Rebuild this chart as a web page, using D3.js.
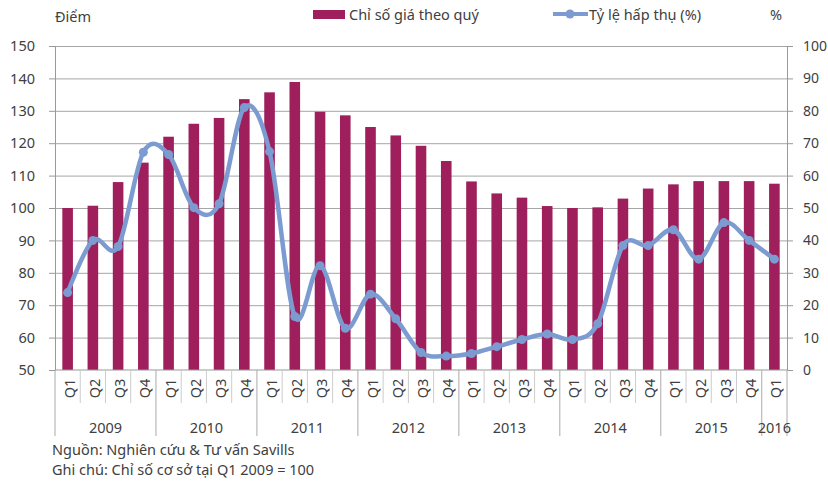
<!DOCTYPE html>
<html>
<head>
<meta charset="utf-8">
<script src="https://cdn.jsdelivr.net/npm/d3@7"></script>
<style>
  body { margin: 0; background: #fff; }
  svg text { font-family: "Noto Sans", "Open Sans", sans-serif; fill: #404040; }
</style>
</head>
<body>
<div id="content"></div>
<script>
const svgWidth = 828, svgHeight = 483;

// data
const years = ["2009", "2010", "2011", "2012", "2013", "2014", "2015", "2016"];
const quartersPerYear = [4, 4, 4, 4, 4, 4, 4, 1];
const quarterNames = ["Q1", "Q2", "Q3", "Q4"];
const priceIndex = [100, 100.7, 108, 114, 122, 126, 127.8, 133.6, 135.7, 138.9,
  129.7, 128.6, 125, 122.4, 119.2, 114.5, 108.2, 104.5, 103.2, 100.6,
  100, 100.2, 102.9, 106, 107.3, 108.3, 108.3, 108.3, 107.5];
const absorption = [23.9, 40, 38.1, 67.2, 66.5, 50.1, 51.3, 81, 67.4, 16.5,
  32.2, 12.9, 23.4, 15.8, 5.4, 4.3, 5.1, 7.2, 9.4, 11.1,
  9.4, 14.3, 38.4, 38.4, 43.3, 34.2, 45.5, 40, 34.2];
const leftTicks = [50, 60, 70, 80, 90, 100, 110, 120, 130, 140, 150];
const rightTicks = [0, 10, 20, 30, 40, 50, 60, 70, 80, 90, 100];

// category labels
const quarters = [];
years.forEach((y, i) => {
  for (let q = 0; q < quartersPerYear[i]; q++) quarters.push({ year: y, q: quarterNames[q] });
});

const plotL = 55, plotR = 787, plotT = 46, plotB = 370;
const barColor = "#9e1f5c", lineColor = "#7b9bd1", gridColor = "#a6a6a6", axisColor = "#999";
const fs = 14.5;

const svg = d3.select("#content").append("svg")
  .attr("width", svgWidth).attr("height", svgHeight);

const x = d3.scaleBand().domain(d3.range(quarters.length)).range([plotL, plotR]);
const yL = d3.scaleLinear().domain([50, 150]).range([plotB, plotT]);
const yR = d3.scaleLinear().domain([0, 100]).range([plotB, plotT]);

// gridlines
svg.append("g")
  .attr("transform", `translate(${plotL},0)`)
  .call(d3.axisLeft(yL).tickValues(leftTicks.slice(1)).tickSize(-(plotR - plotL)).tickFormat(""))
  .call(g => g.select(".domain").remove())
  .call(g => g.selectAll("line").attr("stroke", gridColor));

// bars
const barW = x.bandwidth() * 0.42;
svg.append("g").selectAll("rect")
  .data(priceIndex).enter().append("rect")
  .attr("x", (d, i) => x(i) + (x.bandwidth() - barW) / 2)
  .attr("y", d => yL(d))
  .attr("width", barW)
  .attr("height", d => yL(50) - yL(d))
  .attr("fill", barColor);

// left axis
svg.append("g")
  .attr("transform", `translate(${plotL},0)`)
  .call(d3.axisLeft(yL).tickValues(leftTicks).tickSize(6).tickPadding(14))
  .call(g => g.select(".domain").attr("stroke", axisColor))
  .call(g => g.selectAll("line").attr("stroke", axisColor))
  .call(g => g.selectAll("text").attr("font-size", fs).attr("fill", "#404040"));

// right axis
svg.append("g")
  .attr("transform", `translate(${plotR},0)`)
  .call(d3.axisRight(yR).tickValues(rightTicks).tickSize(6).tickPadding(10))
  .call(g => g.select(".domain").attr("stroke", axisColor))
  .call(g => g.selectAll("line").attr("stroke", axisColor))
  .call(g => g.selectAll("text").attr("font-size", 14).attr("fill", "#404040"));

// bottom axis line
svg.append("line")
  .attr("x1", plotL).attr("x2", plotR).attr("y1", plotB).attr("y2", plotB)
  .attr("stroke", axisColor);

// quarter separators and year separators
const yearStarts = [0];
quartersPerYear.forEach(n => yearStarts.push(yearStarts[yearStarts.length - 1] + n));
const boundaries = d3.range(quarters.length + 1);
svg.append("g").selectAll("line")
  .data(boundaries).enter().append("line")
  .attr("x1", i => i < quarters.length ? x(i) : plotR)
  .attr("x2", i => i < quarters.length ? x(i) : plotR)
  .attr("y1", plotB)
  .attr("y2", i => yearStarts.includes(i) ? 436 : 403)
  .attr("stroke", i => yearStarts.includes(i) ? "#aaa" : "#ccc");

// quarter labels
svg.append("g").selectAll("text")
  .data(quarters).enter().append("text")
  .attr("transform", (d, i) => `translate(${x(i) + x.bandwidth() / 2 + 1},388.5) rotate(-90)`)
  .attr("text-anchor", "middle")
  .attr("dominant-baseline", "central")
  .attr("font-size", fs)
  .text(d => d.q);

// year labels
svg.append("g").selectAll("text")
  .data(years).enter().append("text")
  .attr("x", (d, i) => {
    const a = x(yearStarts[i]);
    const b = yearStarts[i + 1] < quarters.length ? x(yearStarts[i + 1]) : plotR;
    return (a + b) / 2;
  })
  .attr("y", 433)
  .attr("text-anchor", "middle")
  .attr("font-size", fs)
  .text(d => d);

// absorption line
const line = d3.line()
  .x((d, i) => x(i) + x.bandwidth() / 2)
  .y(d => yR(d))
  .curve(d3.curveCatmullRom.alpha(0));
svg.append("path")
  .datum(absorption)
  .attr("d", line)
  .attr("fill", "none")
  .attr("stroke", lineColor)
  .attr("stroke-width", 4.5)
  .attr("stroke-linejoin", "round");
svg.append("g").selectAll("circle")
  .data(absorption).enter().append("circle")
  .attr("cx", (d, i) => x(i) + x.bandwidth() / 2)
  .attr("cy", d => yR(d))
  .attr("r", 4.5)
  .attr("fill", lineColor);

// axis titles
svg.append("text").attr("x", 55).attr("y", 22).attr("font-size", fs).text("Điểm");
svg.append("text").attr("x", 770).attr("y", 20).attr("font-size", fs).text("%");

// legend
svg.append("rect").attr("x", 313).attr("y", 10).attr("width", 32).attr("height", 9).attr("fill", barColor);
svg.append("text").attr("x", 349).attr("y", 20).attr("font-size", fs).text("Chỉ số giá theo quý");
svg.append("line").attr("x1", 553).attr("x2", 588).attr("y1", 14).attr("y2", 14)
  .attr("stroke", lineColor).attr("stroke-width", 4);
svg.append("circle").attr("cx", 570).attr("cy", 14).attr("r", 4.5).attr("fill", lineColor);
svg.append("text").attr("x", 589).attr("y", 20).attr("font-size", fs).text("Tỷ lệ hấp thụ (%)");

// footer
svg.append("text").attr("x", 52).attr("y", 455).attr("font-size", fs).text("Nguồn: Nghiên cứu & Tư vấn Savills");
svg.append("text").attr("x", 52).attr("y", 475).attr("font-size", fs).text("Ghi chú: Chỉ số cơ sở tại Q1 2009 = 100");
</script>
</body>
</html>
